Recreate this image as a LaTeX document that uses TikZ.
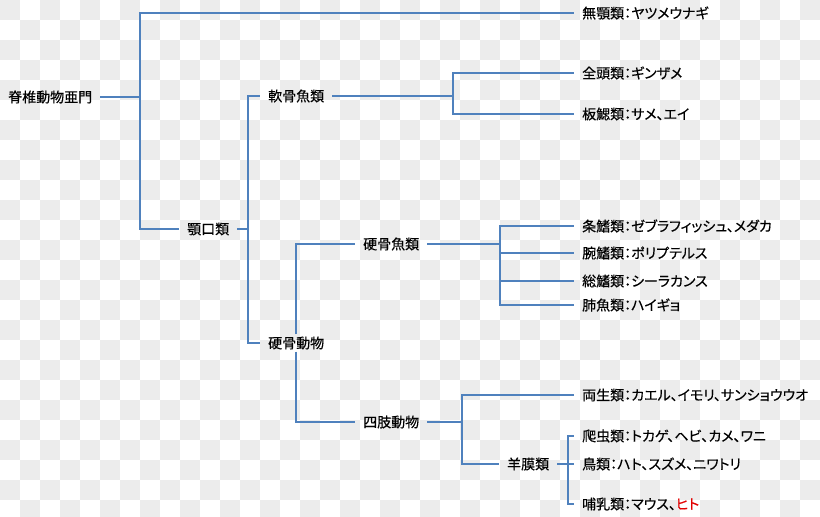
\documentclass[tikz,border=0pt]{standalone}
\usepackage{fontspec}
\setmainfont{Noto Sans CJK JP}[RawFeature=+palt, FakeBold=0.4]
\usepackage{tikz}
\definecolor{treeblue}{RGB}{79,129,189}
\definecolor{checkgray}{RGB}{236,236,236}
\definecolor{hitored}{RGB}{226,0,0}
\tikzstyle{taxon} = [anchor=west, inner xsep=8pt, inner ysep=2pt, font=\fontsize{14}{16}\selectfont]
\tikzstyle{branch} = [draw=treeblue, line width=1.8pt]
\tikzstyle{stem} = [draw=treeblue, line width=2.6pt]

\begin{document}
\begin{tikzpicture}[x=1pt, y=-1pt]
  % checkered background
  \useasboundingbox (0,0) rectangle (820,517);
  \begin{scope}
    \clip (0,0) rectangle (820,517);
    \foreach \i in {0,2,...,40}
      \foreach \j in {0,2,...,24} {
        \fill[checkgray] (\i*20,\j*20) rectangle ++(20,20);
        \fill[checkgray] (\i*20+20,\j*20+20) rectangle ++(20,20);
      }
  \end{scope}

  % taxa
  \node (root) [taxon] at (0, 97) {脊椎動物亜門};
  \node (mugaku) [taxon] at (574, 13) {無顎類：ヤツメウナギ};
  \node (gakko) [taxon] at (179, 229) {顎口類};
  \node (nankotsu) [taxon] at (260, 96) {軟骨魚類};
  \node (zentou) [taxon] at (574, 73) {全頭類：ギンザメ};
  \node (bansai) [taxon] at (574, 114) {板鰓類：サメ、エイ};
  \node (kokotsu) [taxon] at (260, 343) {硬骨動物};
  \node (kokotsugyo) [taxon] at (355, 244) {硬骨魚類};
  \node (joki) [taxon] at (574, 226) {条鰭類：ゼブラフィッシュ、メダカ};
  \node (wanki) [taxon] at (574, 253) {腕鰭類：ポリプテルス};
  \node (souki) [taxon] at (574, 281) {総鰭類：シーラカンス};
  \node (haigyo) [taxon] at (574, 305) {肺魚類：ハイギョ};
  \node (shishi) [taxon] at (355, 422) {四肢動物};
  \node (ryousei) [taxon] at (574, 395) {両生類：カエル、イモリ、サンショウウオ};
  \node (youmaku) [taxon] at (499, 464) {羊膜類};
  \node (hachu) [taxon] at (574, 436) {爬虫類：トカゲ、ヘビ、カメ、ワニ};
  \node (chou) [taxon] at (574, 464) {鳥類：ハト、スズメ、ニワトリ};
  \node (honyu) [taxon] at (574, 504) {哺乳類：マウス、\textcolor{hitored}{ヒト}};

  % branch points
  \coordinate (jroot) at (140, 97);
  \coordinate (jgakko) at (248, 229);
  \coordinate (jnankotsu) at (453, 96);
  \coordinate (jkokotsu) at (296, 343);
  \coordinate (jgyo) at (500, 244);
  \coordinate (jshishi) at (462, 422);
  \coordinate (jyoumaku) at (568, 464);

  \path [stem] (root) -- (jroot);
  \path [branch] (jroot) |- (mugaku);
  \path [branch] (jroot) |- (gakko);
  \path [stem] (gakko) -- (jgakko);
  \path [branch] (jgakko) |- (nankotsu);
  \path [branch] (jgakko) |- (kokotsu);

  \path [stem] (nankotsu) -- (jnankotsu);
  \path [branch] (jnankotsu) |- (zentou);
  \path [branch] (jnankotsu) |- (bansai);

  \path [branch] (jkokotsu |- kokotsu.north) |- (kokotsugyo);
  \path [branch] (jkokotsu |- kokotsu.south) |- (shishi);

  \path [stem] (kokotsugyo) -- (jgyo);
  \path [branch] (jgyo) |- (joki);
  \path [branch] (jgyo) |- (wanki);
  \path [branch] (jgyo) |- (souki);
  \path [branch] (jgyo) |- (haigyo);

  \path [stem] (shishi) -- (jshishi);
  \path [branch] (jshishi) |- (ryousei);
  \path [branch] (jshishi) |- (youmaku);

  \path [stem] (youmaku) -- (jyoumaku);
  \path [branch] (jyoumaku) -- (chou);
  \path [branch] (jyoumaku) |- (hachu);
  \path [branch] (jyoumaku) |- (honyu);
\end{tikzpicture}
\end{document}
